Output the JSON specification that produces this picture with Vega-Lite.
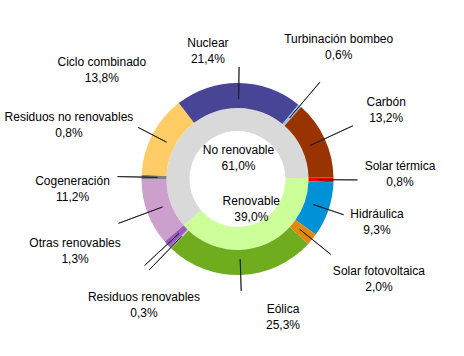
{
  "$schema": "https://vega.github.io/schema/vega-lite/v6.json",
  "width": 453,
  "height": 354,
  "autosize": "none",
  "padding": {"left": 11, "top": 2, "right": 0, "bottom": 0},
  "background": "white",
  "config": {"view": {"stroke": null}, "text": {"font": "Liberation Sans", "fontSize": 12, "color": "#000000", "dy": -8}},
  "datasets": {
    "fuentes": [
      {"n": 1, "name": "Solar térmica", "share": 0.8, "label": "Solar térmica\n0,8%"},
      {"n": 2, "name": "Hidráulica", "share": 9.3, "label": "Hidráulica\n9,3%"},
      {"n": 3, "name": "Solar fotovoltaica", "share": 2.0, "label": "Solar fotovoltaica\n2,0%"},
      {"n": 4, "name": "Eólica", "share": 25.3, "label": "Eólica\n25,3%"},
      {"n": 5, "name": "Residuos renovables", "share": 0.3, "label": "Residuos renovables\n0,3%"},
      {"n": 6, "name": "Otras renovables", "share": 1.3, "label": "Otras renovables\n1,3%"},
      {"n": 7, "name": "Cogeneración", "share": 11.2, "label": "Cogeneración\n11,2%"},
      {"n": 8, "name": "Residuos no renovables", "share": 0.8, "label": "Residuos no renovables\n0,8%"},
      {"n": 9, "name": "Ciclo combinado", "share": 13.8, "label": "Ciclo combinado\n13,8%"},
      {"n": 10, "name": "Nuclear", "share": 21.4, "label": "Nuclear\n21,4%"},
      {"n": 11, "name": "Turbinación bombeo", "share": 0.6, "label": "Turbinación bombeo\n0,6%"},
      {"n": 12, "name": "Carbón", "share": 13.2, "label": "Carbón\n13,2%"}
    ],
    "tipo": [
      {"n": 1, "name": "Renovable", "share": 39.0, "label": "Renovable\n39,0%"},
      {"n": 2, "name": "No renovable", "share": 61.0, "label": "No renovable\n61,0%"}
    ]
  },
  "data": {"name": "fuentes"},
  "encoding": {
    "theta": {"field": "share", "type": "quantitative", "stack": true, "scale": {"range": [1.55334, 7.83653]}},
    "order": {"field": "n", "type": "quantitative"}
  },
  "layer": [
    {
      "data": {"name": "tipo"},
      "mark": {"type": "arc", "outerRadius": 71, "innerRadius": 48},
      "encoding": {
        "color": {"field": "name", "type": "nominal", "legend": null,
          "scale": {
            "domain": ["Solar térmica", "Hidráulica", "Solar fotovoltaica", "Eólica", "Residuos renovables", "Otras renovables", "Cogeneración", "Residuos no renovables", "Ciclo combinado", "Nuclear", "Turbinación bombeo", "Carbón", "Renovable", "No renovable"],
            "range": ["#FF0000", "#0092D6", "#E3880A", "#70AD1E", "#BFBFBF", "#9A5CBE", "#CC9FCC", "#808080", "#FFCC66", "#484496", "#9CC3E5", "#993300", "#CCFF99", "#D9D9D9"]
          }}
      }
    },
    {
      "mark": {"type": "arc", "outerRadius": 96, "innerRadius": 71},
      "encoding": {"color": {"field": "name", "type": "nominal", "legend": null}}
    },
    {
      "mark": {"type": "arc", "outerRadius": 127, "innerRadius": 80, "padAngle": 3, "fillOpacity": 0, "stroke": "#1a1a1a", "strokeWidth": 0.8},
      "encoding": {
        "detail": {"field": "name", "type": "nominal"},
        "strokeOpacity": {"condition": {"test": {"field": "name", "oneOf": ["Carbón", "Turbinación bombeo", "Cogeneración", "Residuos renovables", "Otras renovables"]}, "value": 1}, "value": 0}
      }
    },
    {
      "mark": {"type": "arc", "outerRadius": 120, "innerRadius": 80, "padAngle": 3, "fillOpacity": 0, "stroke": "#1a1a1a", "strokeWidth": 0.8},
      "encoding": {
        "detail": {"field": "name", "type": "nominal"},
        "strokeOpacity": {"condition": {"test": {"field": "name", "oneOf": ["Solar térmica", "Solar fotovoltaica", "Residuos no renovables"]}, "value": 1}, "value": 0}
      }
    },
    {
      "mark": {"type": "arc", "outerRadius": 112, "innerRadius": 80, "padAngle": 3, "fillOpacity": 0, "stroke": "#1a1a1a", "strokeWidth": 0.8},
      "encoding": {
        "detail": {"field": "name", "type": "nominal"},
        "strokeOpacity": {"condition": {"test": {"field": "name", "oneOf": ["Nuclear", "Hidráulica", "Eólica", "Ciclo combinado"]}, "value": 1}, "value": 0}
      }
    },
    {"mark": {"type": "text", "radius": 162.6, "thetaOffset": -0.039, "lineBreak": "\n", "lineHeight": 16},
     "encoding": {"detail": {"field": "name", "type": "nominal"}, "text": {"condition": {"test": {"field": "name", "equal": "Solar térmica"}, "field": "label", "type": "nominal"}, "value": ""}}},
    {"mark": {"type": "text", "radius": 146, "thetaOffset": -0.026, "lineBreak": "\n", "lineHeight": 16},
     "encoding": {"detail": {"field": "name", "type": "nominal"}, "text": {"condition": {"test": {"field": "name", "equal": "Hidráulica"}, "field": "label", "type": "nominal"}, "value": ""}}},
    {"mark": {"type": "text", "radius": 173, "thetaOffset": -0.066, "lineBreak": "\n", "lineHeight": 16},
     "encoding": {"detail": {"field": "name", "type": "nominal"}, "text": {"condition": {"test": {"field": "name", "equal": "Solar fotovoltaica"}, "field": "label", "type": "nominal"}, "value": ""}}},
    {"mark": {"type": "text", "radius": 145, "thetaOffset": -0.286, "lineBreak": "\n", "lineHeight": 16},
     "encoding": {"detail": {"field": "name", "type": "nominal"}, "text": {"condition": {"test": {"field": "name", "equal": "Eólica"}, "field": "label", "type": "nominal"}, "value": ""}}},
    {"mark": {"type": "text", "radius": 157, "thetaOffset": -0.133, "lineBreak": "\n", "lineHeight": 16},
     "encoding": {"detail": {"field": "name", "type": "nominal"}, "text": {"condition": {"test": {"field": "name", "equal": "Residuos renovables"}, "field": "label", "type": "nominal"}, "value": ""}}},
    {"mark": {"type": "text", "radius": 177.7, "thetaOffset": 0.332, "lineBreak": "\n", "lineHeight": 16},
     "encoding": {"detail": {"field": "name", "type": "nominal"}, "text": {"condition": {"test": {"field": "name", "equal": "Otras renovables"}, "field": "label", "type": "nominal"}, "value": ""}}},
    {"mark": {"type": "text", "radius": 165.3, "thetaOffset": 0.296, "lineBreak": "\n", "lineHeight": 16},
     "encoding": {"detail": {"field": "name", "type": "nominal"}, "text": {"condition": {"test": {"field": "name", "equal": "Cogeneración"}, "field": "label", "type": "nominal"}, "value": ""}}},
    {"mark": {"type": "text", "radius": 176.9, "thetaOffset": 0.288, "lineBreak": "\n", "lineHeight": 16},
     "encoding": {"detail": {"field": "name", "type": "nominal"}, "text": {"condition": {"test": {"field": "name", "equal": "Residuos no renovables"}, "field": "label", "type": "nominal"}, "value": ""}}},
    {"mark": {"type": "text", "radius": 173.9, "thetaOffset": 0.197, "lineBreak": "\n", "lineHeight": 16},
     "encoding": {"detail": {"field": "name", "type": "nominal"}, "text": {"condition": {"test": {"field": "name", "equal": "Ciclo combinado"}, "field": "label", "type": "nominal"}, "value": ""}}},
    {"mark": {"type": "text", "radius": 131.4, "thetaOffset": -0.241, "lineBreak": "\n", "lineHeight": 16},
     "encoding": {"detail": {"field": "name", "type": "nominal"}, "text": {"condition": {"test": {"field": "name", "equal": "Nuclear"}, "field": "label", "type": "nominal"}, "value": ""}}},
    {"mark": {"type": "text", "radius": 166.3, "thetaOffset": -0.051, "lineBreak": "\n", "lineHeight": 16},
     "encoding": {"detail": {"field": "name", "type": "nominal"}, "text": {"condition": {"test": {"field": "name", "equal": "Turbinación bombeo"}, "field": "label", "type": "nominal"}, "value": ""}}},
    {"mark": {"type": "text", "radius": 163.7, "thetaOffset": 0, "lineBreak": "\n", "lineHeight": 16},
     "encoding": {"detail": {"field": "name", "type": "nominal"}, "text": {"condition": {"test": {"field": "name", "equal": "Carbón"}, "field": "label", "type": "nominal"}, "value": ""}}},
    {"data": {"name": "tipo"},
     "mark": {"type": "text", "radius": 21.5, "thetaOffset": 0.41, "lineBreak": "\n", "lineHeight": 16},
     "encoding": {"detail": {"field": "name", "type": "nominal"}, "text": {"condition": {"test": {"field": "name", "equal": "No renovable"}, "field": "label", "type": "nominal"}, "value": ""}}},
    {"data": {"name": "tipo"},
     "mark": {"type": "text", "radius": 33, "thetaOffset": -0.068, "lineBreak": "\n", "lineHeight": 16},
     "encoding": {"detail": {"field": "name", "type": "nominal"}, "text": {"condition": {"test": {"field": "name", "equal": "Renovable"}, "field": "label", "type": "nominal"}, "value": ""}}}
  ]
}
